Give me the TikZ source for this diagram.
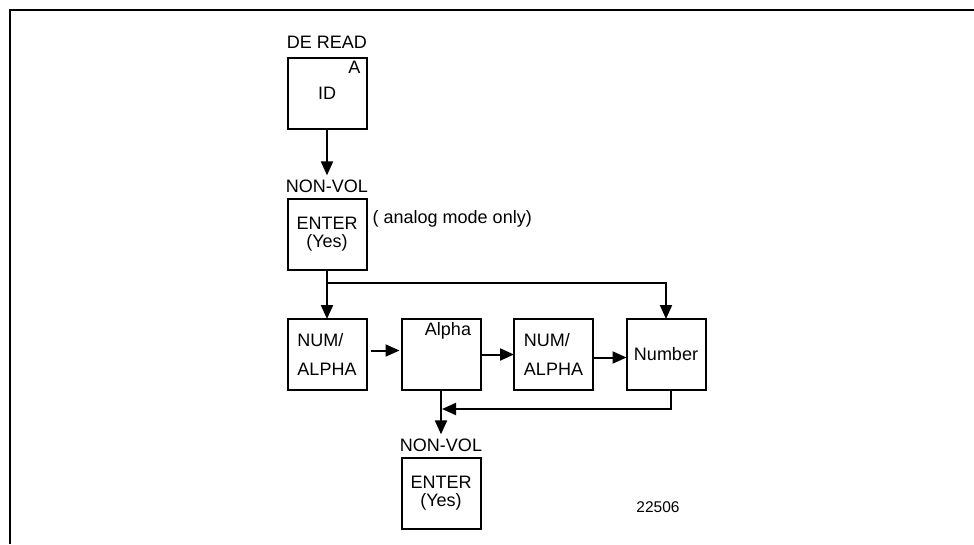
\documentclass[tikz,border=0pt]{standalone}
\usepackage{fontspec}
\setmainfont{Liberation Sans}
\usetikzlibrary{arrows.meta,positioning}

\begin{document}
\begin{tikzpicture}[
  x=1pt,y=-1pt,
  font=\fontsize{18}{21}\selectfont,
  node distance=34pt,
  box/.style={draw,line width=2pt,minimum width=79pt,minimum height=71pt,
              inner sep=2pt,outer sep=0pt,align=center},
  tag/.style={inner sep=4pt},
  arrow/.style={-{Triangle[length=14pt,width=12pt]},line width=2pt},
  link/.style={line width=2pt}
]
\useasboundingbox (0,0) rectangle (974,544);
\draw[line width=1.2pt] (974,10) -- (10,10) -- (10,544);

\node[box] (id) at (327,93) {ID};
\node[tag,inner sep=0,anchor=north east] (idmark) at ([xshift=-6pt,yshift=-3pt]id.north east) {A};
\node[tag,above=5pt of id] (deread) {DE READ};
\node[box,below=70pt of id] (enter1) {ENTER\\[-3pt](Yes)};
\node[tag,above=2pt of enter1] (nv1) {NON-VOL};
\node[tag,anchor=base west] (mode) at ([xshift=2pt,yshift=-25pt]enter1.north east) {( analog mode only)};

\node[box,align=left,below=49.5pt of enter1] (num1) {NUM/\\[8pt]ALPHA};
\node[box,right=35pt of num1] (alpha) {};
\node[tag,inner sep=0,anchor=north] (alphatxt) at ([xshift=7pt,yshift=-3pt]alpha.north) {Alpha};
\node[box,align=left,right=33.5pt of alpha] (num2) {NUM/\\[8pt]ALPHA};
\node[box,right=33.5pt of num2] (number) {Number};

\node[box,below=67.5pt of alpha] (enter2) {ENTER\\[-3pt](Yes)};
\node[tag,above=2pt of enter2] (nv2) {NON-VOL};
\node[tag,font=\fontsize{15.5}{18}\selectfont] (fignum) at (658,507) {22506};

% flow from the ID box down to the branch
\draw[arrow] (id) -- (nv1);
\coordinate[below=13pt of enter1] (split);
\draw[link] (enter1) -- (split);
\draw[arrow] (split) -- (num1);
\draw[arrow] (split) -| (number);

% row of entry steps
\draw[arrow,shorten <=4pt,shorten >=2pt] ([yshift=4pt]num1.east) -- ([yshift=4pt]alpha.west);
\draw[arrow] (alpha) -- (num2);
\draw[arrow] ([yshift=-3pt]num2.east) -- ([yshift=-3pt]number.west);

% return to the final store
\coordinate (turn) at ([xshift=5pt,yshift=-19pt]number.south);
\draw[arrow,shorten >=1pt] ([xshift=5pt]number.south) -- (turn) -- (turn -| alpha.south);
\draw[arrow] (alpha) -- (nv2);
\end{tikzpicture}
\end{document}
